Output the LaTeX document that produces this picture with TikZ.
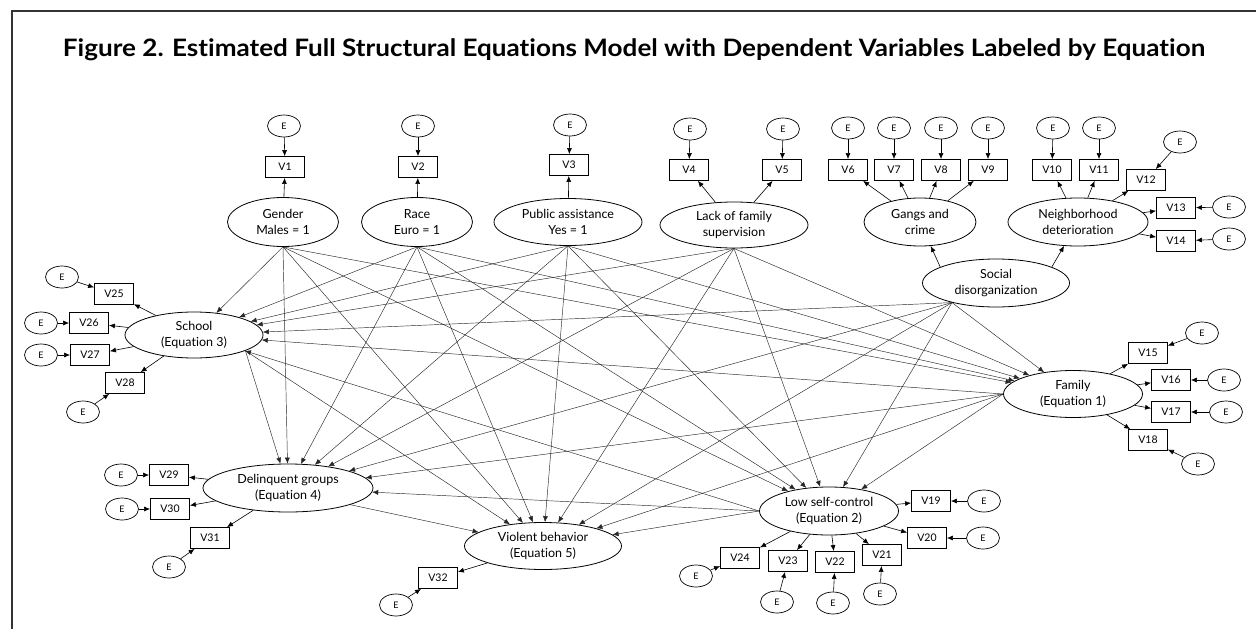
\documentclass[tikz,border=0pt]{standalone}
\usepackage{fontspec}
\usepackage{graphicx}
\setmainfont{Lato}[Ligatures=NoCommon]
\usetikzlibrary{shapes.geometric,arrows.meta}
\tikzset{
 err/.style={ellipse,draw,line width=0.7pt,minimum width=33pt,minimum height=22pt,inner sep=0pt,font=\fontsize{9}{9}\selectfont},
 obs/.style={rectangle,draw,line width=0.8pt,minimum width=39pt,minimum height=21pt,inner sep=0pt,font=\fontsize{10.5}{10.5}\selectfont},
 lat/.style={ellipse,draw,line width=0.8pt,inner sep=0pt,align=center,font=\fontsize{12.5}{16}\selectfont},
 ind/.style={-{Latex[length=6pt,width=5pt]},line width=0.6pt},
 sem/.style={-{Latex[length=6pt,width=5pt]},line width=0.45pt,black!85},
}
\begin{document}
\begin{tikzpicture}[x=1pt,y=-1pt]
\useasboundingbox (0,0) rectangle (1256,629);
\draw[line width=1.1pt,black!80] (12,629) -- (12,11) -- (1256,11);
\node (title) at (634,50) {\resizebox{1142pt}{\height}{\fontsize{24}{24}\selectfont\bfseries Figure 2. Estimated Full Structural Equations Model with Dependent Variables Labeled by Equation}};

% latent variables
\node[lat,minimum width=111pt,minimum height=49pt] (gender) at (283,222) {Gender\\Males = 1};
\node[lat,minimum width=111pt,minimum height=49pt] (race) at (417,222) {Race\\Euro = 1};
\node[lat,minimum width=148pt,minimum height=47pt] (public) at (568,222) {Public assistance\\Yes = 1};
\node[lat,minimum width=148pt,minimum height=46pt] (lack) at (734,225) {Lack of family\\supervision};
\node[lat,minimum width=112pt,minimum height=48pt] (gangs) at (920,222) {Gangs and\\crime};
\node[lat,minimum width=140pt,minimum height=48pt] (neigh) at (1078,222) {Neighborhood\\deterioration};
\node[lat,minimum width=147pt,minimum height=48pt] (social) at (996,283) {Social\\disorganization};
\node[lat,minimum width=138pt,minimum height=46pt] (school) at (194,335) {School\\(Equation 3)};
\node[lat,minimum width=139pt,minimum height=47pt] (family) at (1073,394) {Family\\(Equation 1)};
\node[lat,minimum width=170pt,minimum height=48pt] (delinq) at (288,488) {Delinquent groups\\(Equation 4)};
\node[lat,minimum width=139pt,minimum height=48pt] (lsc) at (829,511) {Low self-control\\(Equation 2)};
\node[lat,minimum width=157pt,minimum height=47pt] (violent) at (543,546) {Violent behavior\\(Equation 5)};

% observed variables
\foreach \i/\x/\y in {1/285/167,2/418/167,3/569/165,4/689/170,5/782/170,6/848/170,7/894/170,8/941/170,9/988/170,10/1052/170,11/1099/170,12/1146/180,13/1176/208,14/1176/241,15/1148/353,16/1171/380,17/1171/412,18/1148/440,19/931/501,20/927/538,21/882/555,22/835/562,23/788/561,24/740/558,25/114/294,26/89/323,27/90/355,28/125/383,29/169/475,30/170/509,31/210/538,32/438/578}
  \node[obs] (v\i) at (\x,\y) {V\i};

% error terms
\foreach \i/\x/\y in {1/284/126,2/418/126,3/570/125,4/690/129,5/783/129,6/848/128,7/894/128,8/941/128,9/988/128,10/1053/128,11/1099/128,12/1180/142,13/1229/207,14/1229/239,15/1202/333,16/1224/380,17/1226/412,18/1198/464,19/984/501,20/983/538,21/880/594,22/833/603,23/777/602,24/696/576,25/62/277,26/41/323,27/41/355,28/83/412,29/121/475,30/122/509,31/169/567,32/396/605}
  \node[err] (e\i) at (\x,\y) {E};

\foreach \i in {1,...,32} \draw[ind] (e\i) -- (v\i);

% measurement paths
\foreach \l/\i in {gender/1,race/2,public/3,lack/4,lack/5,gangs/6,gangs/7,gangs/8,gangs/9,neigh/10,neigh/11,neigh/12,neigh/13,neigh/14,family/15,family/16,family/17,family/18,lsc/19,lsc/20,lsc/21,lsc/22,lsc/23,lsc/24,school/25,school/26,school/27,school/28,delinq/29,delinq/30,delinq/31,violent/32}
  \draw[ind] (\l) -- (v\i);

% second-order factor
\draw[ind] (social.164) -- (gangs);
\draw[ind] (social.16) -- (neigh);

% structural paths
\foreach \s in {gender.south,race.south,public.south,lack.south,social.204}
  \foreach \t in {family,lsc,school,delinq,violent}
    \draw[sem] (\s) -- (\t);
\foreach \t in {lsc,school,delinq,violent} \draw[sem] (family.west) -- (\t);
\foreach \t in {school,delinq,violent} \draw[sem] (lsc.west) -- (\t);
\foreach \t in {delinq,violent} \draw[sem] (school.-17) -- (\t);
\draw[sem] (delinq.-15) -- (violent);
\end{tikzpicture}
\end{document}
